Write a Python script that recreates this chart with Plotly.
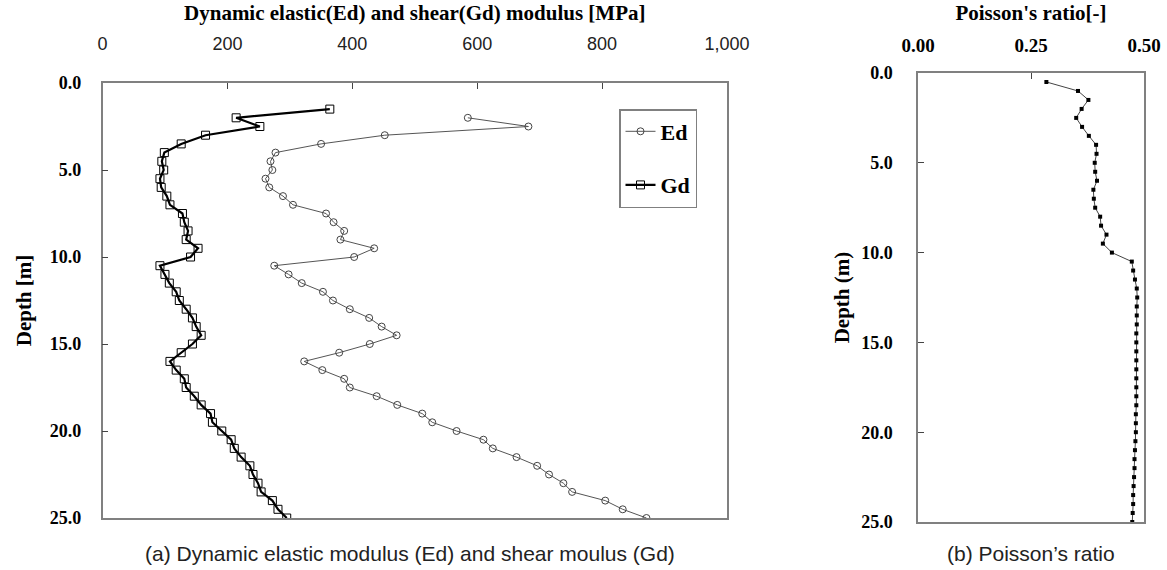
import plotly.graph_objects as go

# ---- data ----
ed_depth = [2.0 + 0.5 * i for i in range(47)]
ed_values = [585, 682, 452, 350, 277, 269, 272, 261, 267, 289,
             305, 358, 370, 387, 381, 435, 403, 275, 298, 319,
             353, 369, 396, 427, 447, 471, 428, 379, 323, 352,
             387, 396, 439, 472, 512, 528, 567, 610, 625, 663,
             696, 715, 738, 752, 805, 833, 871]

gd_depth = [1.5 + 0.5 * i for i in range(48)]
gd_values = [364, 214, 252, 165, 126, 99, 95, 98, 92, 94,
             103, 108, 128, 131, 137, 134, 153, 141, 92, 100,
             107, 118, 123, 134, 144, 150, 158, 144, 126, 108,
             118, 131, 134, 147, 158, 173, 176, 191, 206, 211,
             222, 236, 241, 249, 254, 272, 281, 295]

nu_depth = [0.5 + 0.5 * i for i in range(50)]
nu_values = [0.284, 0.354, 0.377, 0.362, 0.350, 0.363, 0.378, 0.394, 0.395, 0.391,
             0.392, 0.396, 0.388, 0.389, 0.392, 0.403, 0.405, 0.417, 0.409, 0.429,
             0.473, 0.476, 0.480, 0.484, 0.485, 0.484, 0.484, 0.484, 0.483, 0.483,
             0.483, 0.483, 0.483, 0.483, 0.483, 0.483, 0.483, 0.482, 0.482, 0.482,
             0.481, 0.480, 0.479, 0.479, 0.478, 0.477, 0.476, 0.476, 0.475, 0.474]

mod_ticks = [0, 200, 400, 600, 800, 1000]
nu_ticks = [0.0, 0.25, 0.5]
depth_ticks = [0, 5, 10, 15, 20, 25]

W, H = 1167, 570
serif = "Liberation Serif"
sans = "Liberation Sans"

fig = go.Figure()

fig.add_trace(go.Scatter(
    x=ed_values, y=ed_depth, name="Ed", legendgroup="ed", mode="lines+markers",
    line=dict(color="#555555", width=1),
    marker=dict(symbol="circle-open", size=7, color="#444444", line=dict(width=1)),
    xaxis="x", yaxis="y"))
fig.add_trace(go.Scatter(
    x=gd_values, y=gd_depth, name="Gd", legendgroup="gd", mode="lines+markers",
    line=dict(color="#000000", width=2.2),
    marker=dict(symbol="square-open", size=8, color="#000000", line=dict(width=1)),
    xaxis="x", yaxis="y"))
fig.add_trace(go.Scatter(
    x=nu_values, y=nu_depth, name="Poisson", mode="lines+markers", showlegend=False,
    line=dict(color="#444444", width=1),
    marker=dict(symbol="square", size=4, color="#000000"),
    xaxis="x2", yaxis="y2"))

axis_common = dict(showline=True, linecolor="#808080", linewidth=1.5, mirror=True,
                   ticks="inside", ticklen=6, tickcolor="#444444", showgrid=False,
                   zeroline=False, automargin=False)

bold_serif = lambda s: dict(family=serif, size=s, color="black", weight="bold")

fig.update_layout(
    width=W, height=H,
    margin=dict(l=0, r=0, t=0, b=0, autoexpand=False),
    paper_bgcolor="white", plot_bgcolor="white",
    showlegend=True,
    legend=dict(x=619 / W, y=1 - 109 / H, xanchor="left", yanchor="top",
                bordercolor="#808080", borderwidth=1.5,
                font=bold_serif(22),
                tracegroupgap=22, itemwidth=30,
                bgcolor="white"),
    xaxis=dict(domain=[102.5 / W, 727 / W], range=[0, 1000], side="top",
               tickvals=mod_ticks, tickformat=",",
               tickfont=dict(family=sans, size=18, color="#222222"),
               ticklabelstandoff=24,
               title=dict(text="Dynamic elastic(Ed) and shear(Gd) modulus [MPa]",
                          font=bold_serif(21), standoff=8),
               anchor="y", **axis_common),
    yaxis=dict(domain=[1 - 518 / H, 1 - 83 / H], range=[25, 0],
               tickvals=depth_ticks, tickformat=".1f",
               tickfont=bold_serif(18),
               ticklabelstandoff=16,
               title=dict(text="Depth [m]", font=bold_serif(21), standoff=12),
               anchor="x", **axis_common),
    xaxis2=dict(domain=[918 / W, 1144 / W], range=[0, 0.5], side="top",
                tickvals=nu_ticks, tickformat=".2f",
                tickfont=bold_serif(19),
                ticklabelstandoff=12,
                title=dict(text="Poisson's ratio[-]", font=bold_serif(21), standoff=8),
                anchor="y2", **axis_common),
    yaxis2=dict(domain=[1 - 522 / H, 1 - 73 / H], range=[25, 0],
                tickvals=depth_ticks, tickformat=".1f",
                tickfont=bold_serif(18),
                ticklabelstandoff=20,
                title=dict(text="Depth (m)", font=bold_serif(21), standoff=6),
                anchor="x2", **axis_common),
    annotations=[
        dict(text="(a) Dynamic elastic modulus (Ed) and shear moulus (Gd)",
             x=410 / W, y=1 - 553 / H, xref="paper", yref="paper",
             xanchor="center", yanchor="middle", showarrow=False,
             font=dict(family=sans, size=21, color="#222222")),
        dict(text="(b) Poisson\u2019s ratio",
             x=1031 / W, y=1 - 553 / H, xref="paper", yref="paper",
             xanchor="center", yanchor="middle", showarrow=False,
             font=dict(family=sans, size=21, color="#222222")),
    ],
)

fig.write_html("out.html")
